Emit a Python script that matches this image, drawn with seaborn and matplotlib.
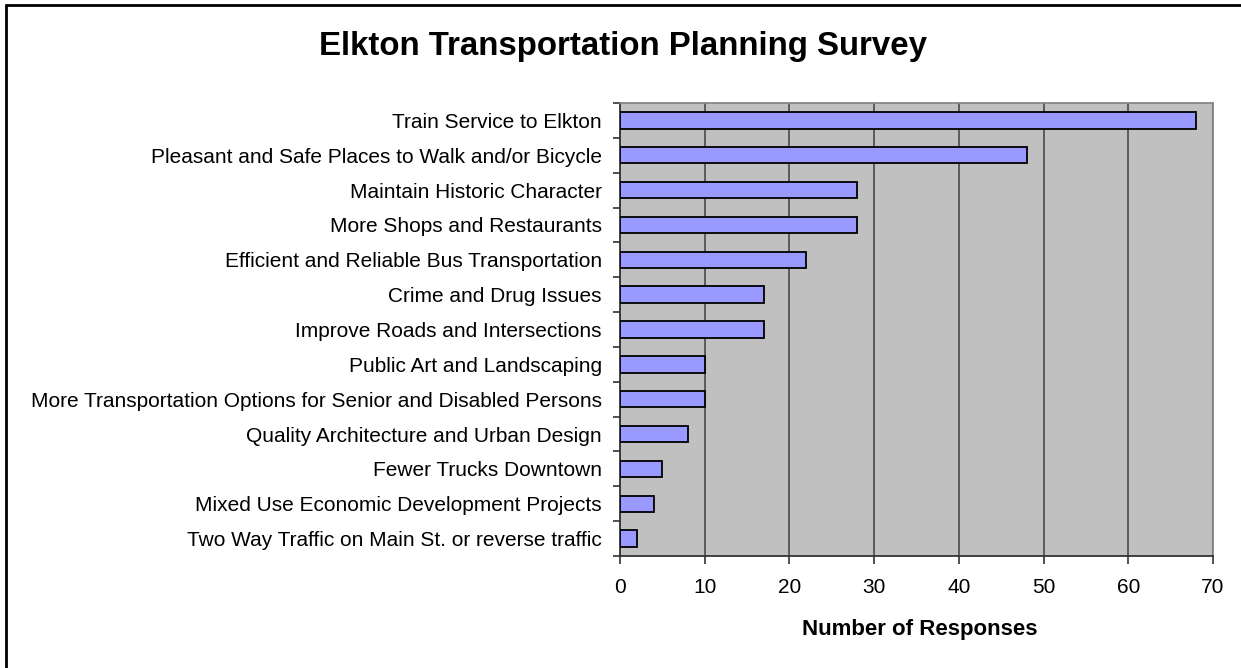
import numpy as np
import pandas as pd
import seaborn as sns
import matplotlib
matplotlib.use("Agg")
import matplotlib.pyplot as plt
from matplotlib.lines import Line2D

categories = [
    "Train Service to Elkton",
    "Pleasant and Safe Places to Walk and/or Bicycle",
    "Maintain Historic Character",
    "More Shops and Restaurants",
    "Efficient and Reliable Bus Transportation",
    "Crime and Drug Issues",
    "Improve Roads and Intersections",
    "Public Art and Landscaping",
    "More Transportation Options for Senior and Disabled Persons",
    "Quality Architecture and Urban Design",
    "Fewer Trucks Downtown",
    "Mixed Use Economic Development Projects",
    "Two Way Traffic on Main St. or reverse traffic",
]
responses = [68, 48, 28, 28, 22, 17, 17, 10, 10, 8, 5, 4, 2]
x_ticks = [0, 10, 20, 30, 40, 50, 60, 70]

df = pd.DataFrame({"category": categories, "responses": responses})

sns.set_style("white")
plt.rcParams["font.family"] = ["Liberation Sans", "DejaVu Sans"]
plt.rcParams["text.color"] = "black"
plt.rcParams["xtick.color"] = "black"
plt.rcParams["ytick.color"] = "black"
plt.rcParams["axes.labelcolor"] = "black"

W, H = 1241, 668
fig = plt.figure(figsize=(W / 100, H / 100), dpi=100)
ax = fig.add_axes([620 / W, 1 - 556 / H, (1213 - 620) / W, (556 - 103) / H])
ax.set_facecolor("#C0C0C0")

sns.barplot(data=df, x="responses", y="category", orient="h", color="#9999FF",
            saturation=1, edgecolor="black", linewidth=1.3, width=0.47, ax=ax, zorder=3)

ax.set_xlim(0, 70)
ax.set_ylim(len(categories) - 0.5, -0.5)
ax.set_xticks(x_ticks)
ax.xaxis.grid(True, color="#404040", linewidth=1.1, zorder=0)
ax.set_axisbelow(True)

# excel style ticks sit between the categories
ax.set_yticks(np.arange(len(categories) + 1) - 0.5, minor=True)
ax.tick_params(axis="y", which="major", length=0, labelsize=15, pad=13)
ax.tick_params(axis="y", which="minor", length=5, width=1.2, color="#333333", left=True)
ax.tick_params(axis="x", which="major", length=6, width=1.2, color="#333333", bottom=True,
               labelsize=15, pad=10)

for side in ["top", "right"]:
    ax.spines[side].set_color("#808080")
    ax.spines[side].set_linewidth(1.2)
for side in ["left", "bottom"]:
    ax.spines[side].set_color("#333333")
    ax.spines[side].set_linewidth(1.3)

ax.set_ylabel("")
ax.set_xlabel("")

fig.text((805 + 1034) / 2 / W, 1 - 630 / H, "Number of Responses", ha="center", va="center",
         fontsize=16, fontweight="bold")
fig.text(623 / W, 1 - 47 / H, "Elkton Transportation Planning Survey", ha="center", va="center",
         fontsize=23.8, fontweight="bold")

# chart border, cut off at the right and bottom edges
fig.add_artist(Line2D([6 / W, 6 / W], [0, 1 - 5 / H], transform=fig.transFigure,
                      color="black", linewidth=2))
fig.add_artist(Line2D([6 / W, 1], [1 - 5 / H, 1 - 5 / H], transform=fig.transFigure,
                      color="black", linewidth=2))

fig.savefig("out.png", dpi=100)
